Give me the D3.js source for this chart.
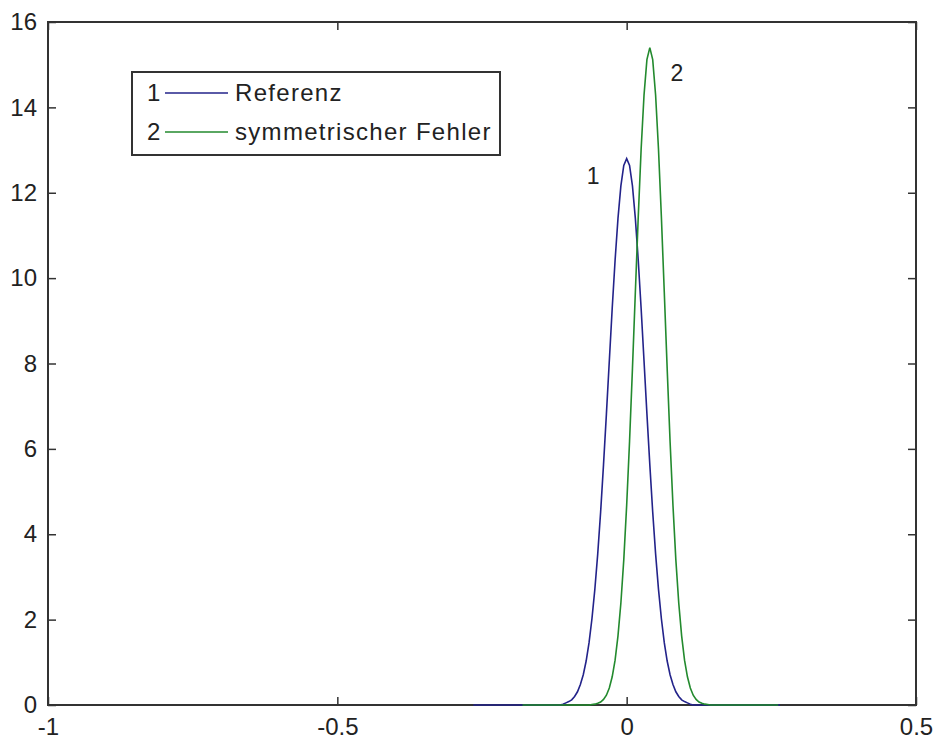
<!DOCTYPE html>
<html>
<head>
    <meta charset="UTF-8">
    <script src="https://d3js.org/d3.v7.min.js"></script>
    <style>
        body { margin: 0; background: #fff; }
        text { font-family: "Liberation Sans", Arial, sans-serif; fill: #222; }
    </style>
</head>
<body>
    <div id="chart"></div>
    <script>
        // values
        var xTicks = [-1, -0.5, 0, 0.5];
        var yTicks = [0, 2, 4, 6, 8, 10, 12, 14, 16];

        // curve 1: Referenz
        var refX = [-0.265, -0.115, -0.11, -0.105, -0.1, -0.095, -0.09, -0.085, -0.08, -0.075, -0.07, -0.065, -0.06,
            -0.055, -0.05, -0.045, -0.04, -0.035, -0.03, -0.025, -0.02, -0.015, -0.01, -0.005, 0,
            0.005, 0.01, 0.015, 0.02, 0.025, 0.03, 0.035, 0.04, 0.045, 0.05, 0.055, 0.06,
            0.065, 0.07, 0.075, 0.08, 0.085, 0.09, 0.095, 0.1, 0.105, 0.11, 0.115, 0.265];
        var refY = [0, 0, 0.02, 0.05, 0.08, 0.12, 0.2, 0.31, 0.48, 0.71, 1.03, 1.46, 2.02,
            2.71, 3.54, 4.52, 5.63, 6.82, 8.06, 9.29, 10.42, 11.4, 12.16, 12.64, 12.8,
            12.64, 12.16, 11.4, 10.42, 9.29, 8.06, 6.82, 5.63, 4.52, 3.54, 2.71, 2.02,
            1.46, 1.03, 0.71, 0.48, 0.31, 0.2, 0.12, 0.08, 0.05, 0.02, 0, 0];

        // curve 2: symmetrischer Fehler
        var errX = [-0.18, -0.065, -0.06, -0.055, -0.05, -0.045, -0.04, -0.035, -0.03, -0.025, -0.02, -0.015,
            -0.01, -0.005, 0, 0.005, 0.01, 0.015, 0.02, 0.025, 0.03, 0.035, 0.04,
            0.045, 0.05, 0.055, 0.06, 0.065, 0.07, 0.075, 0.08, 0.085, 0.09, 0.095,
            0.1, 0.105, 0.11, 0.115, 0.12, 0.125, 0.13, 0.135, 0.14, 0.145, 0.262];
        var errY = [0, 0, 0.01, 0.02, 0.04, 0.07, 0.13, 0.23, 0.4, 0.66, 1.05, 1.62,
            2.39, 3.4, 4.68, 6.18, 7.88, 9.67, 11.43, 13.02, 14.29, 15.12, 15.4,
            15.12, 14.29, 13.02, 11.43, 9.67, 7.88, 6.18, 4.68, 3.4, 2.39, 1.62,
            1.05, 0.66, 0.4, 0.23, 0.13, 0.07, 0.04, 0.02, 0.01, 0, 0];

        var seriesNames = ["Referenz", "symmetrischer Fehler"];
        var seriesTags = ["1", "2"];
        var seriesColors = ["#23238a", "#238a2e"];
        // curve tag positions (data coords)
        var tagX = [-0.058, 0.087];
        var tagY = [12.4, 14.8];

        var margin = { top: 22, right: 23, bottom: 40, left: 48 },
            width = 939 - margin.left - margin.right,
            height = 745 - margin.top - margin.bottom;

        var svg = d3.select("#chart")
            .append("svg")
            .attr("width", 939)
            .attr("height", 745)
            .append("g")
            .attr("transform", "translate(" + margin.left + "," + margin.top + ")");

        var x = d3.scaleLinear().domain([-1, 0.5]).range([0, width]);
        var y = d3.scaleLinear().domain([0, 16]).range([height, 0]);

        var axisColor = "#333";
        var tickLen = 8;

        // box
        svg.append("rect")
            .attr("width", width).attr("height", height)
            .attr("fill", "none").attr("stroke", axisColor).attr("stroke-width", 2);

        // inward ticks on all four sides
        function styleAxis(g) {
            g.select(".domain").remove();
            g.selectAll(".tick line").attr("stroke", axisColor).attr("stroke-width", 1.5);
            g.selectAll(".tick text").style("font-size", "24px").attr("fill", "#222");
        }
        svg.append("g").attr("transform", "translate(0," + height + ")")
            .call(d3.axisBottom(x).tickValues(xTicks).tickSize(-tickLen).tickPadding(tickLen + 5)
                .tickFormat(function (d) { return String(d); }))
            .call(styleAxis);
        svg.append("g")
            .call(d3.axisTop(x).tickValues(xTicks).tickSize(-tickLen).tickFormat(""))
            .call(styleAxis);
        svg.append("g")
            .call(d3.axisLeft(y).tickValues(yTicks).tickSize(-tickLen).tickPadding(tickLen + 3)
                .tickFormat(function (d) { return String(d); }))
            .call(styleAxis);
        svg.append("g").attr("transform", "translate(" + width + ",0)")
            .call(d3.axisRight(y).tickValues(yTicks).tickSize(-tickLen).tickFormat(""))
            .call(styleAxis);

        // curves
        var line = d3.line()
            .x(function (d) { return x(d[0]); })
            .y(function (d) { return y(d[1]); });

        var curves = [d3.zip(refX, refY), d3.zip(errX, errY)];
        curves.forEach(function (pts, i) {
            svg.append("path")
                .datum(pts)
                .attr("d", line)
                .attr("fill", "none")
                .attr("stroke", seriesColors[i])
                .attr("stroke-width", 1.6);
            svg.append("text")
                .attr("x", x(tagX[i]))
                .attr("y", y(tagY[i]))
                .attr("text-anchor", "middle")
                .attr("dy", "0.35em")
                .style("font-size", "23px")
                .text(seriesTags[i]);
        });

        // legend
        var legend = svg.append("g").attr("transform", "translate(" + (132 - margin.left) + "," + (72 - margin.top) + ")");
        legend.append("rect")
            .attr("width", 368).attr("height", 83)
            .attr("fill", "#fff").attr("stroke", axisColor).attr("stroke-width", 2);
        var rows = legend.selectAll(".row")
            .data(seriesNames)
            .enter().append("g")
            .attr("transform", function (d, i) { return "translate(0," + (21 + i * 39) + ")"; });
        rows.append("text")
            .attr("x", 15).attr("dy", "0.35em")
            .style("font-size", "24px")
            .text(function (d, i) { return seriesTags[i]; });
        rows.append("line")
            .attr("x1", 33).attr("x2", 96)
            .attr("stroke", function (d, i) { return seriesColors[i]; })
            .attr("stroke-width", 1.6);
        rows.append("text")
            .attr("x", 103).attr("dy", "0.35em")
            .style("font-size", "24px")
            .style("letter-spacing", "1.3px")
            .text(function (d) { return d; });
    </script>
</body>
</html>
